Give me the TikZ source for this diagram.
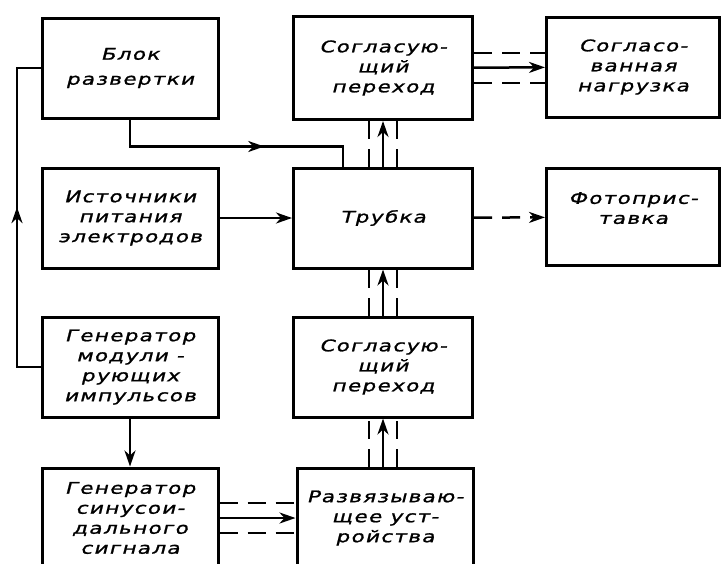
\documentclass[tikz,border=0pt]{standalone}
\usepackage{fontspec}
\newfontfamily\gost[FakeSlant=0.25,FakeStretch=1.35,FakeBold=1.2,LetterSpace=8]{DejaVu Sans}
\usetikzlibrary{arrows.meta, decorations.markings}

\tikzset{
  blockbox/.style={draw, line width=3pt, minimum width=176pt, minimum height=100pt,
    align=center, inner sep=2pt, font=\gost\fontsize{16}{20}\selectfont},
  link/.style={line width=2.5pt},
  tip/.style={-{Stealth[length=16pt,width=11pt,inset=5pt]}},
  wave/.style={line width=2.5pt, dash pattern=on 18pt off 10pt},
  midarrow/.style={postaction={decorate}, decoration={markings,
    mark=at position #1 with {\arrow{Stealth[length=16pt,width=11pt,inset=5pt]}}}}
}

\begin{document}
\begin{tikzpicture}[x=1pt, y=-1pt]
    \useasboundingbox (0,0) rectangle (722,563);
    \clip (0,0) rectangle (722,563);
        % left column
        \node[blockbox, font=\gost\fontsize{16}{25}\selectfont] (blok) at (130,68) {Блок\\развертки};
        \node[blockbox] (istoch) at (130,218) {Источники\\питания\\электродов};
        \node[blockbox] (genmod) at (130,367) {Генератор\\модули -\\рующих\\импульсов};
        \node[blockbox] (gensin) at (130,518) {Генератор\\синусои-\\дального\\сигнала};
        % middle column
        \node[blockbox, minimum width=179pt, minimum height=103pt] (soglA) at (383,68) {Согласую-\\щий\\переход};
        \node[blockbox, minimum width=179pt] (trubka) at (383,218) {Трубка};
        \node[blockbox, minimum width=179pt] (soglB)  at (383,367) {Согласую-\\щий\\переход};
        \node[blockbox] (razv) at (385,518) {Развязываю-\\щее уст-\\ройства};
        % right column
        \node[blockbox, minimum width=173pt] (nagr) at (633,67)  {Согласо-\\ванная\\нагрузка};
        \node[blockbox, minimum width=173pt, minimum height=97pt, text depth=18pt] (foto) at (633,217) {Фотоприс-\\тавка};

        \coordinate (lbus) at (17,0);
        \draw[link, midarrow=0.53] (genmod.west) -- (genmod.west -| lbus)
            -- (blok.west -| lbus) -- (blok.west);
        \draw[link, midarrow=0.62] (blok.south) -- ++(0,27) -| ([xshift=-40pt]trubka.north);
        \draw[link, tip] (istoch) -- (trubka);
        \draw[wave, tip] (trubka) -- (foto);

        % three-wire links
        \draw[link, tip] (trubka.north) -- (soglA.south);
        \draw[link, tip] (soglB.north) -- (trubka.south);
        \draw[link, tip] (razv.north -| soglB.south) -- (soglB.south);
        \draw[link, tip] (soglA) -- (nagr);
        \draw[link, tip] (gensin) -- (razv);
        \foreach \d in {-14,14} {
            \draw[wave] ([xshift=\d pt]trubka.north) -- ([xshift=\d pt]soglA.south);
            \draw[wave] ([xshift=\d pt]soglB.north) -- ([xshift=\d pt]trubka.south);
            \draw[wave] ([xshift=\d pt]razv.north -| soglB.south) -- ([xshift=\d pt]soglB.south);
        }
        \foreach \d in {-15,15} {
            \draw[wave] ([yshift=\d pt]soglA.east) -- ([yshift=\d pt]soglA.east -| nagr.west);
            \draw[wave] ([yshift=\d pt]gensin.east) -- ([yshift=\d pt]razv.west);
        }
        \draw[link, tip] (genmod) -- (gensin);
\end{tikzpicture}
\end{document}
